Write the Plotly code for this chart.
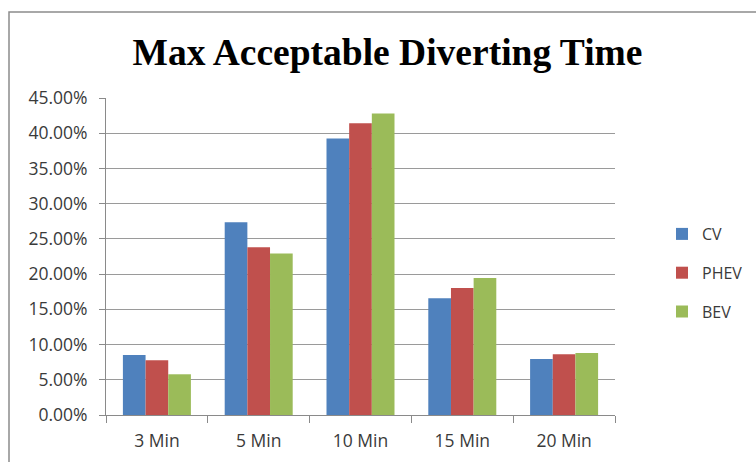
import plotly.graph_objects as go

# Survey results: share of respondents per maximum acceptable diverting time
categories = ["3 Min", "5 Min", "10 Min", "15 Min", "20 Min"]
cv_share = [0.0852, 0.2737, 0.3925, 0.1657, 0.0795]
phev_share = [0.0777, 0.2382, 0.4143, 0.1804, 0.0862]
bev_share = [0.0578, 0.2292, 0.4280, 0.1946, 0.0881]

series = [
    ("CV", cv_share, "#4F81BD"),
    ("PHEV", phev_share, "#C0504D"),
    ("BEV", bev_share, "#9BBB59"),
]

fig = go.Figure()
for i, (name, vals, color) in enumerate(series):
    fig.add_trace(go.Bar(
        name=name, x=categories, y=vals,
        marker=dict(color=color, line=dict(width=0)),
        legendgroup=f"g{i}",
    ))

W, H = 756, 462
L, R, T, B = 106, 141, 98, 47
pw, ph = W - L - R, H - T - B

def px_x(p):
    return (p - L) / pw

def px_y(p):
    return (H - B - p) / ph

tick_font = dict(family="Open Sans, Lato, sans-serif", size=17.5, color="#3a3a3a")

fig.update_layout(
    width=W, height=H,
    margin=dict(l=L, r=R, t=T, b=B, pad=0),
    paper_bgcolor="white", plot_bgcolor="white",
    barmode="group", bargap=0.332, bargroupgap=0,
    title=dict(
        text="<b>Max Acceptable Diverting Time</b>",
        font=dict(family="Liberation Serif, Times New Roman, serif", size=37.5, color="black"),
        x=(133 + 642) / 2 / W, xanchor="center",
        y=1 - 52 / H, yanchor="middle",
    ),
    showlegend=True,
    legend=dict(
        xref="container", yref="container",
        x=662 / W, xanchor="left",
        y=1 - 273 / H, yanchor="middle",
        font=dict(family="Open Sans, Lato, sans-serif", size=16, color="#3a3a3a"),
        tracegroupgap=15,
        bgcolor="rgba(0,0,0,0)",
    ),
    xaxis=dict(
        type="category", tickson="boundaries",
        ticks="outside", ticklen=7, tickcolor="#8a8a8a",
        showline=True, linecolor="#8a8a8a", linewidth=1,
        tickfont=tick_font, showgrid=False,
        ticklabelstandoff=10, automargin=False,
    ),
    yaxis=dict(
        range=[0, 0.45], dtick=0.05, tickformat=".2%",
        ticks="outside", ticklen=6, tickcolor="#8a8a8a",
        showline=True, linecolor="#8a8a8a", linewidth=1,
        showgrid=True, gridcolor="#9a9a9a", gridwidth=1,
        zeroline=False, tickfont=tick_font,
        ticklabelstandoff=8, automargin=False,
    ),
    shapes=[dict(
        type="rect", xref="paper", yref="paper",
        x0=px_x(9), x1=px_x(770), y0=px_y(475), y1=px_y(12),
        line=dict(color="#8c8c8c", width=1.5), fillcolor="rgba(0,0,0,0)",
        layer="below",
    )],
)

fig.write_html("out.html")
